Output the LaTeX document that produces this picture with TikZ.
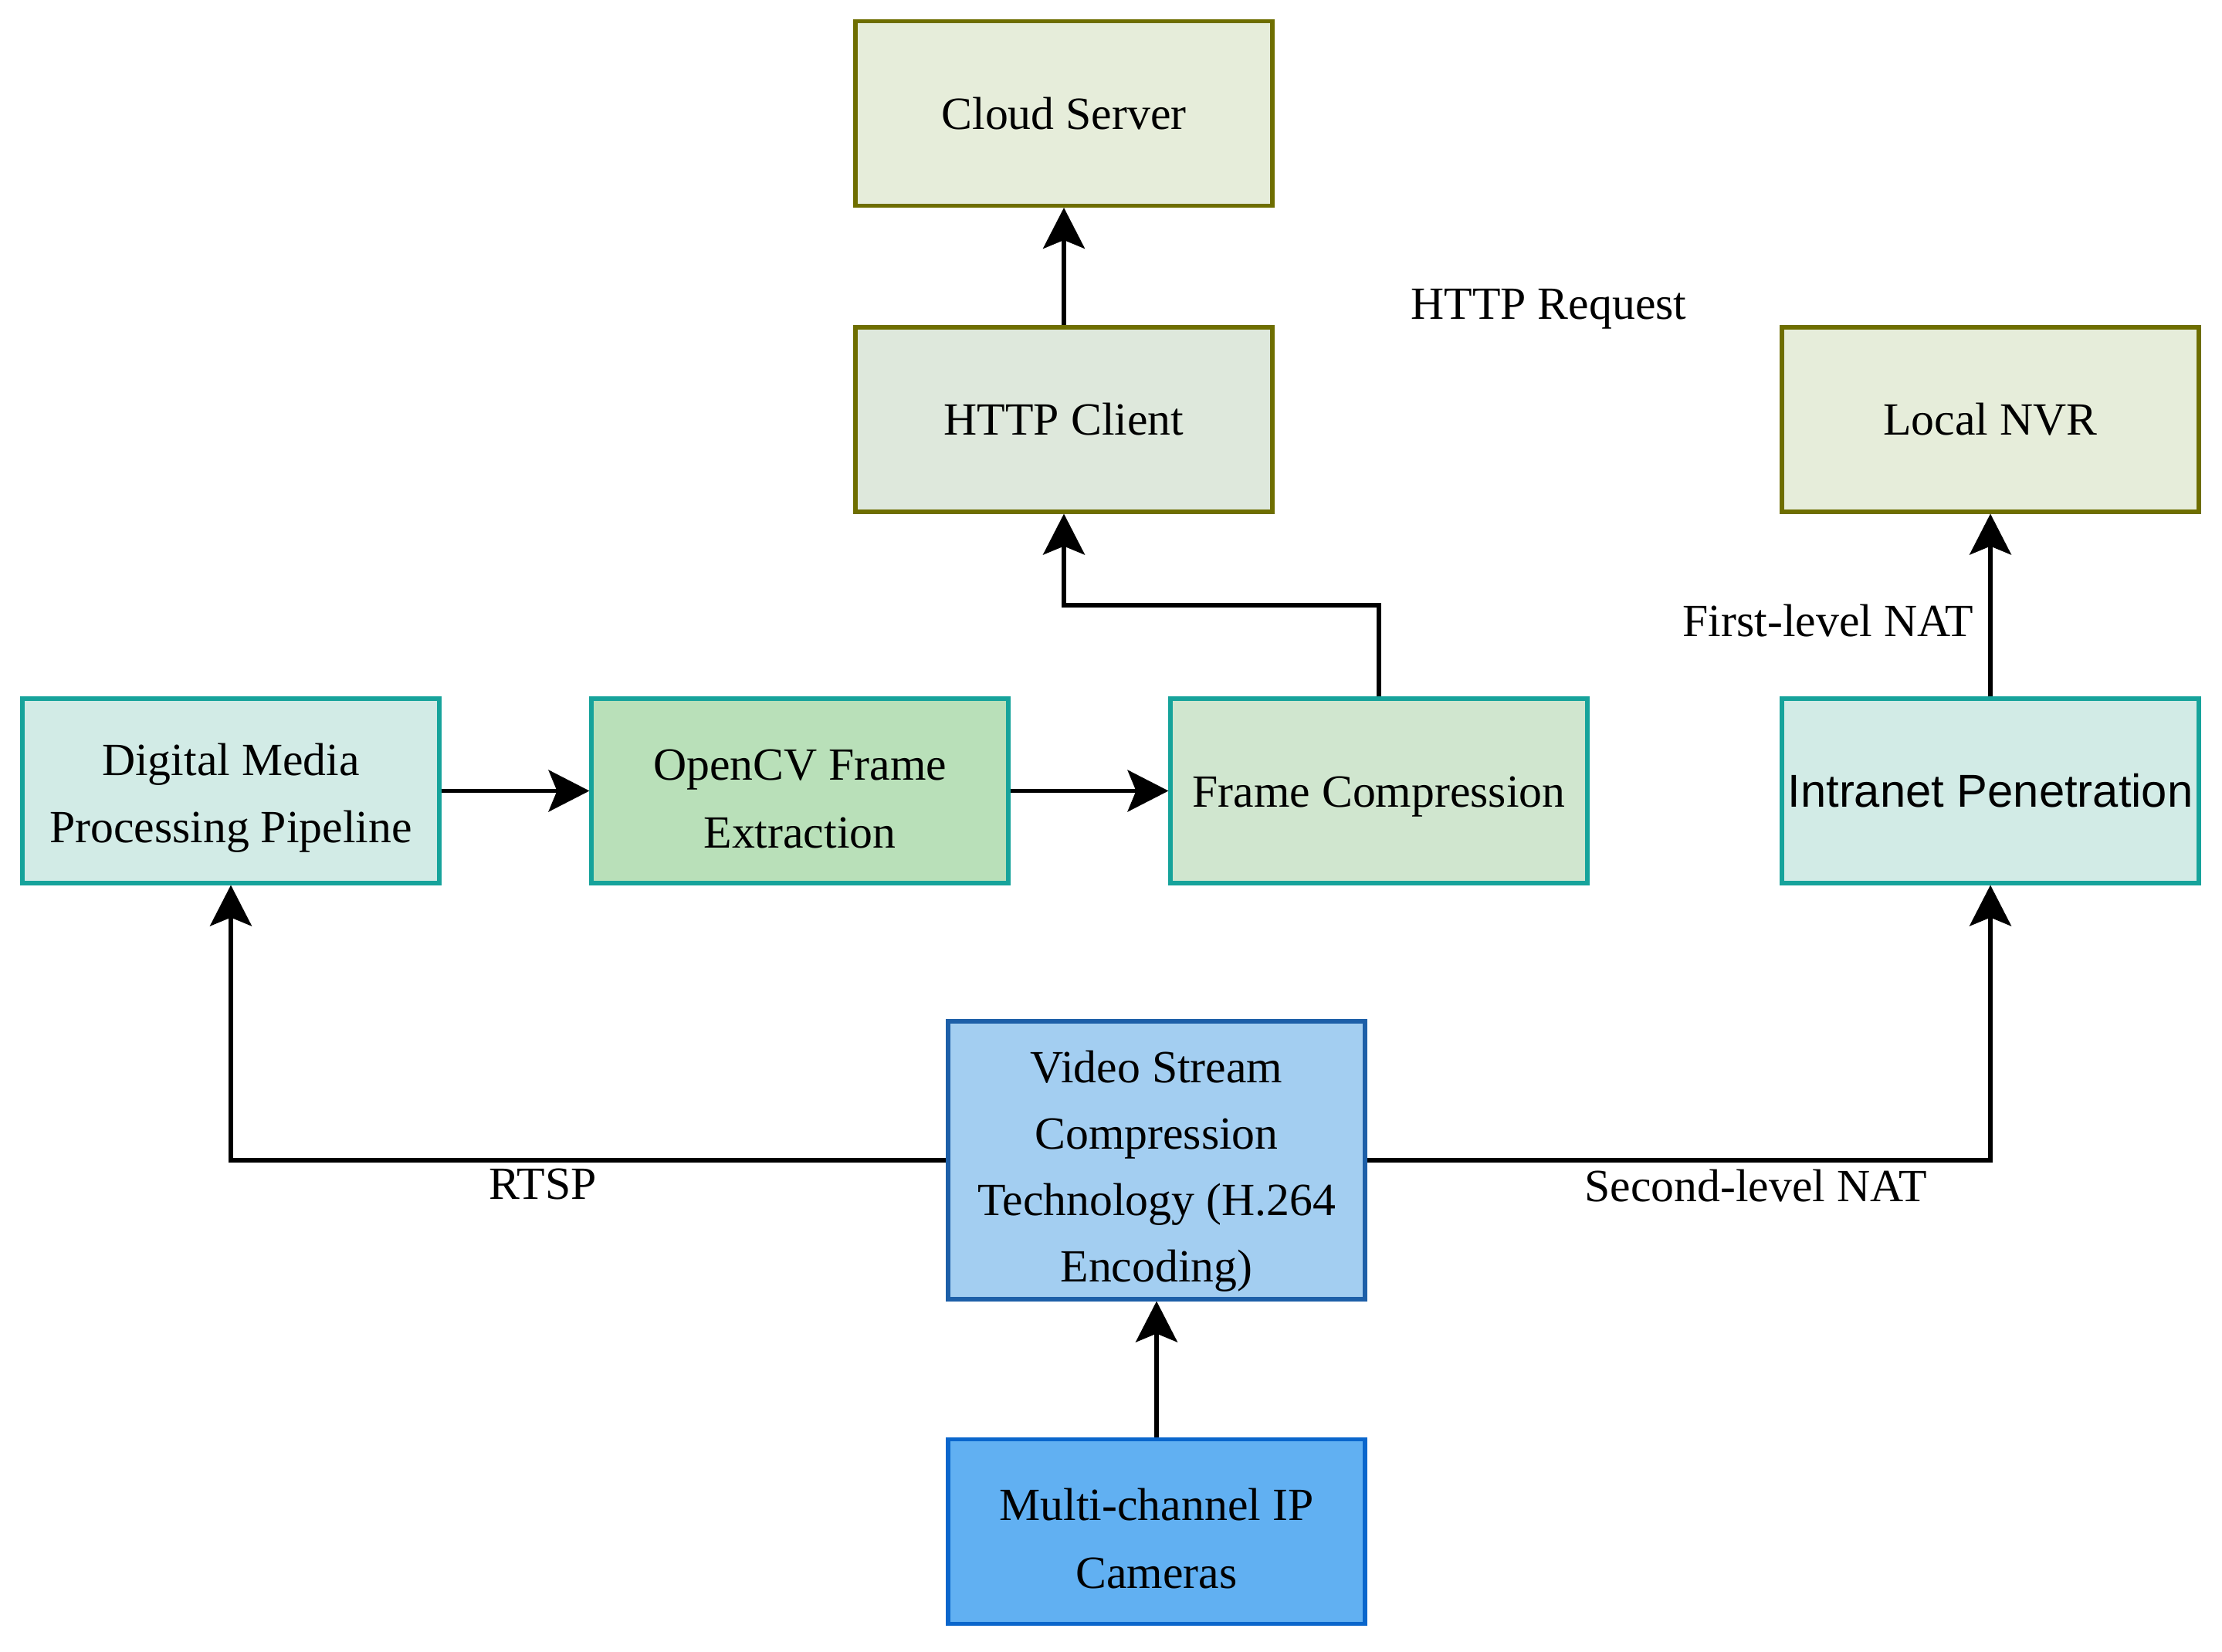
\documentclass[tikz,border=0pt]{standalone}
\usepackage{fontspec}
\setmainfont{Liberation Serif}
\newfontfamily\arialfont{Liberation Sans}
\usetikzlibrary{arrows.meta,calc}
\definecolor{olivebd}{HTML}{6E6E00}
\definecolor{cloudfill}{HTML}{E6EDDA}
\definecolor{clientfill}{HTML}{DEE8DC}
\definecolor{tealbd}{HTML}{16A39B}
\definecolor{tealfill}{HTML}{D2EBE6}
\definecolor{opencvfill}{HTML}{B9E0B9}
\definecolor{compfill}{HTML}{D0E6CF}
\definecolor{streamfill}{HTML}{A3CEF1}
\definecolor{streambd}{HTML}{1D5FA8}
\definecolor{camfill}{HTML}{61B0F2}
\definecolor{cambd}{HTML}{0A66CC}
\newcommand{\topgap}[1]{\rule{0pt}{#1}}

\begin{document}
\begin{tikzpicture}[
    every node/.style={font=\fontsize{17}{25}\selectfont},
    box/.style={draw, line width=1.45pt, minimum width=5.4cm, minimum height=2.39cm, align=center, inner sep=2pt},
    serverbox/.style={box, draw=olivebd, fill=cloudfill},
    tealbox/.style={box, draw=tealbd, fill=tealfill},
    arr/.style={line width=1.45pt, -{Stealth[length=5.3mm, width=5.4mm, inset=1.1mm]}}
  ]
  \useasboundingbox (0,0) rectangle (28.78,-21.40);

  % --- Top: servers ---
  \node[serverbox] (cloud) at (13.78,-1.47) {Cloud Server};
  \node[serverbox, fill=clientfill] (client) at (13.78,-5.435) {HTTP Client};
  \node[serverbox] (nvr) at (25.78,-5.435) {Local NVR};

  % --- Middle row: processing ---
  \node[tealbox] (pipeline) at (2.99,-10.245) {\topgap{0.6cm}Digital Media\\Processing Pipeline};
  \node[tealbox, fill=opencvfill] (opencv) at (10.36,-10.245) {\topgap{0.6cm}OpenCV Frame\\Extraction};
  \node[tealbox, fill=compfill] (fcomp) at (17.86,-10.245) {\topgap{0.55cm}Frame Compression};
  \node[tealbox, font=\arialfont\fontsize{17}{25}\selectfont] (intranet) at (25.78,-10.245) {Intranet Penetration};

  % --- Bottom: cameras and encoding ---
  \node[box, draw=streambd, fill=streamfill, minimum height=3.6cm, font=\fontsize{17}{24.5}\selectfont] (stream) at (14.98,-15.03)
    {\topgap{0.7cm}Video Stream\\Compression\\Technology (H.264\\Encoding)};
  \node[box, draw=cambd, fill=camfill] (cams) at (14.98,-19.84) {\topgap{0.6cm}Multi-channel IP\\Cameras};

  % --- Connectors ---
  \draw[arr] (cams) -- (stream);
  \draw[arr] (stream.west) -| (pipeline.south);
  \draw[arr] (stream.east) -| (intranet.south);
  \draw[arr] (intranet) -- (nvr);
  \draw[arr] (pipeline) -- (opencv);
  \draw[arr] (opencv) -- (fcomp);
  \coordinate (bend) at (17.86,-7.84);
  \draw[arr] (fcomp.north) -- (bend) -| (client.south);
  \draw[arr] (client) -- (cloud);

  % --- Labels ---
  \node (lblhttp) at (20.06,-4.0) {HTTP Request};
  \node[anchor=east, inner sep=0pt] (lblfirst) at (25.57,-8.04) {First-level NAT};
  \node (lblrtsp) at (7.03,-15.34) {RTSP};
  \node (lblsecond) at (22.74,-15.36) {Second-level NAT};
\end{tikzpicture}
\end{document}
